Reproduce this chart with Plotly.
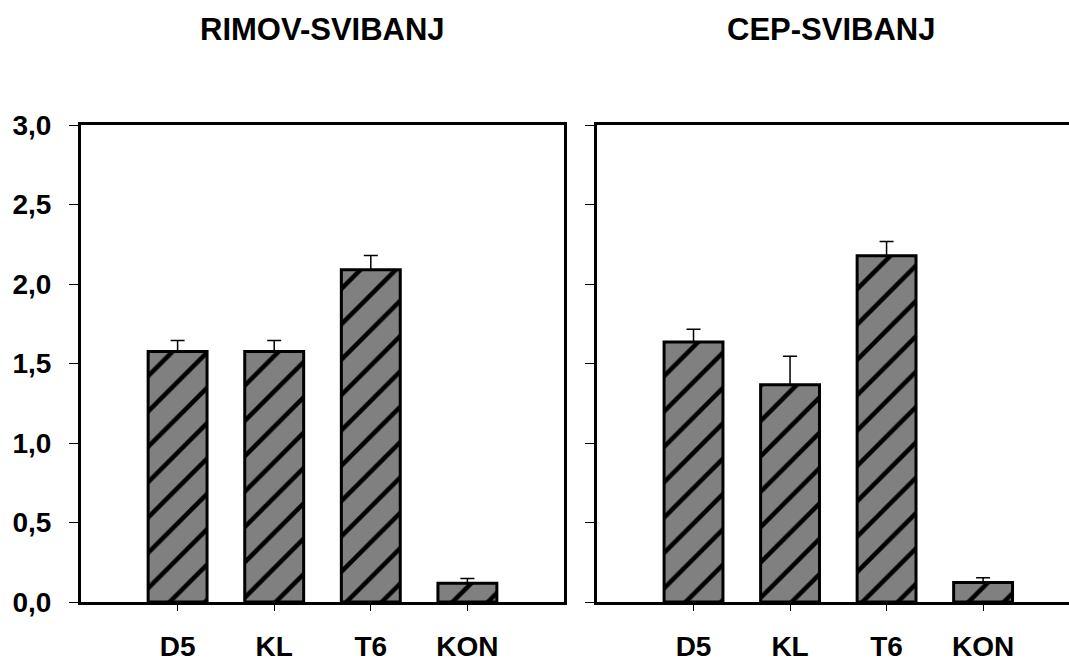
import plotly.graph_objects as go

categories = ["D5", "KL", "T6", "KON"]
rimov_values = [1.575, 1.575, 2.09, 0.118]
rimov_err = [0.07, 0.07, 0.09, 0.03]
cep_values = [1.635, 1.366, 2.178, 0.122]
cep_err = [0.08, 0.18, 0.09, 0.03]
titles = ["RIMOV-SVIBANJ", "CEP-SVIBANJ"]
ytick_vals = [0, 0.5, 1.0, 1.5, 2.0, 2.5, 3.0]
ytick_text = ["0,0", "0,5", "1,0", "1,5", "2,0", "2,5", "3,0"]

FONT = "Liberation Sans, Arial, sans-serif"

fig = go.Figure()

def add_bars(vals, errs, xa, ya):
    fig.add_trace(go.Bar(
        x=list(range(len(categories))), y=vals, xaxis=xa, yaxis=ya,
        width=0.61,
        marker=dict(color="#808080", line=dict(color="black", width=3),
                    pattern=dict(shape="/", fgcolor="black", bgcolor="#808080",
                                 size=25, solidity=0.18, fgopacity=1)),
        error_y=dict(type="data", array=errs, arrayminus=[0]*len(errs),
                     symmetric=False, color="black", thickness=1.5, width=7),
        showlegend=False,
    ))

add_bars(rimov_values, rimov_err, "x", "y")
add_bars(cep_values, cep_err, "x2", "y2")

xcommon = dict(tickmode="array", tickvals=list(range(len(categories))), ticktext=categories,
               ticks="outside", ticklen=6, tickwidth=1, tickcolor="black",
               showline=True, linecolor="black", linewidth=3, mirror=True,
               showgrid=False, zeroline=False,
               tickfont=dict(family=FONT, size=28, color="black", weight="bold"),
               ticklabelstandoff=11, fixedrange=True)
ycommon = dict(range=[0, 3.0], tickmode="array", tickvals=ytick_vals,
               ticks="outside", ticklen=9, tickwidth=1, tickcolor="black",
               showline=True, linecolor="black", linewidth=3,
               showgrid=False, zeroline=False,
               tickfont=dict(family=FONT, size=28, color="black", weight="bold"),
               fixedrange=True)

W, H = 1069, 662
L, R, T, B = 81, 0, 125, 54
pw = W - L - R
ph = H - T - B

fig.update_layout(
    width=W, height=H,
    margin=dict(l=L, r=R, t=T, b=B),
    paper_bgcolor="white", plot_bgcolor="white",
    xaxis=dict(xcommon, domain=[0, (564 - L) / pw], range=[-1, 4], anchor="y"),
    yaxis=dict(ycommon, ticktext=ytick_text, mirror=True, anchor="x",
               ticklabelstandoff=12),
    xaxis2=dict(xcommon, domain=[(597 - L) / pw, 1], range=[-1, 3.89], anchor="y2"),
    yaxis2=dict(ycommon, ticktext=[""] * len(ytick_vals), mirror=False, anchor="x2"),
)

for title, cx in zip(titles, [322, 831]):
    fig.add_annotation(text=title, xref="paper", yref="paper",
                       x=(cx - L) / pw, y=(H - B - 28) / ph,
                       showarrow=False, xanchor="center", yanchor="middle",
                       font=dict(family=FONT, size=31, color="black", weight="bold"))

fig.write_html("out.html", config={"displayModeBar": False},
               post_script="document.body.style.margin='0px';document.body.style.overflow='hidden';")
